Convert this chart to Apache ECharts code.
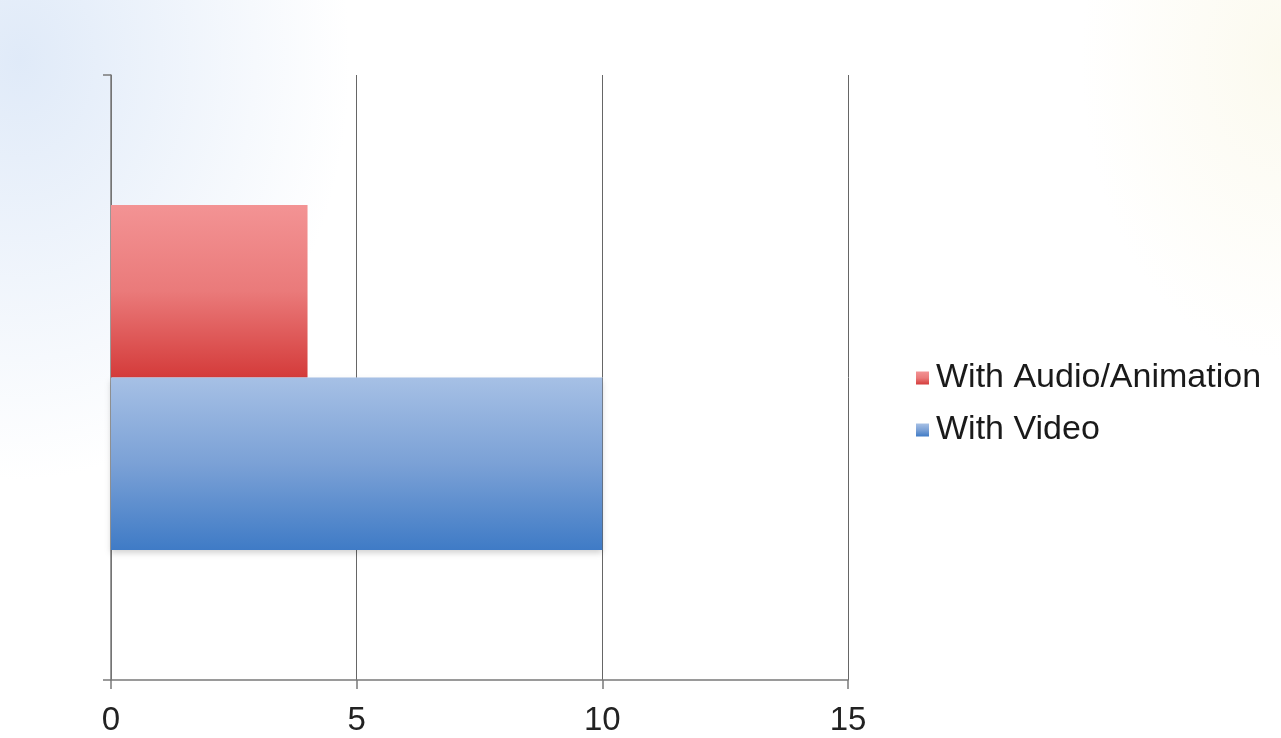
<!DOCTYPE html>
<html>
<head>
<meta charset="utf-8">
<script src="https://cdn.jsdelivr.net/npm/echarts@6/dist/echarts.min.js"></script>
<style>
html,body{margin:0;padding:0;width:1281px;height:738px;overflow:hidden;
background:
 radial-gradient(ellipse 330px 420px at 20px 60px, rgba(222,233,248,0.95), rgba(255,255,255,0) 100%),
 radial-gradient(ellipse 200px 300px at 1281px 60px, rgba(251,249,236,0.85), rgba(255,255,255,0) 100%),
 #ffffff;}
#c{width:1281px;height:738px;}
</style>
</head>
<body>
<div id="c"></div>
<script>
const categories = [''];
const seriesNames = ['With Audio/Animation', 'With Video'];
const audioAnimation = [4];
const video = [10];
const xTicks = [0, 5, 10, 15];

const chart = echarts.init(document.getElementById('c'), null, {renderer: 'canvas'});
function grad(top, mid, bottom) {
  return new echarts.graphic.LinearGradient(0, 0, 0, 1, [
    {offset: 0, color: top}, {offset: 0.5, color: mid}, {offset: 1, color: bottom}
  ]);
}
chart.setOption({
  backgroundColor: 'transparent',
  animation: false,
  textStyle: {fontFamily: 'Liberation Sans, Arial, sans-serif'},
  grid: {left: 111, right: 433, top: 75, bottom: 58, containLabel: false},
  legend: {
    orient: 'vertical', left: 911, top: 356,
    itemWidth: 13, itemHeight: 13, itemGap: 18,
    icon: 'rect',
    data: seriesNames,
    textStyle: {fontSize: 34, color: '#1a1a1a', fontFamily: 'Liberation Sans, Arial, sans-serif', padding: [0, 0, 0, 2]}
  },
  xAxis: {
    type: 'value', min: xTicks[0], max: xTicks[xTicks.length - 1], interval: 5,
    axisLine: {show: true, lineStyle: {color: '#7a7a7a', width: 1.5}},
    axisTick: {show: true, length: 9, lineStyle: {color: '#7a7a7a', width: 1.5}},
    splitLine: {show: true, lineStyle: {color: '#666', width: 1}},
    axisLabel: {fontSize: 33, color: '#222', margin: 24}
  },
  yAxis: {
    type: 'category', data: categories,
    axisLine: {show: true, lineStyle: {color: '#7a7a7a', width: 1.5}},
    axisTick: {show: true, length: 8, lineStyle: {color: '#7a7a7a', width: 1.5}},
    axisLabel: {show: false}
  },
  series: [
    {
      name: seriesNames[0], type: 'bar', data: audioAnimation,
      barGap: '0%', barCategoryGap: '43%',
      itemStyle: {color: grad('#f39394', '#ea7a7a', '#d43b3a')}
    },
    {
      name: seriesNames[1], type: 'bar', data: video,
      barGap: '0%', barCategoryGap: '43%',
      itemStyle: {color: grad('#a6c0e5', '#7ba1d6', '#3f7bc6'), shadowColor: 'rgba(0,0,0,0.18)', shadowBlur: 6, shadowOffsetY: 3}
    }
  ]
});
</script>
</body>
</html>
